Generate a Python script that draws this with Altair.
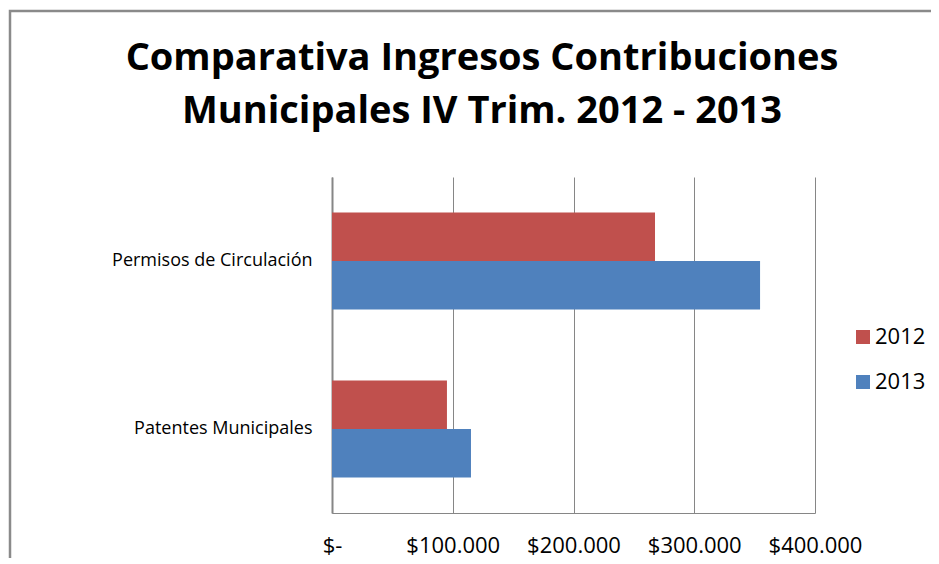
import altair as alt
import pandas as pd

title_lines = ["Comparativa Ingresos Contribuciones", "Municipales IV Trim. 2012 - 2013"]
categories = ["Permisos de Circulación", "Patentes Municipales"]
years = ["2012", "2013"]
values_2012 = [267500, 95200]
values_2013 = [354500, 115100]
x_ticks = [0, 100000, 200000, 300000, 400000]
colors = ["#C0504D", "#4F81BD"]

rows = []
for c, v12, v13 in zip(categories, values_2012, values_2013):
    rows.append({"cat": c, "year": "2012", "value": v12})
    rows.append({"cat": c, "year": "2013", "value": v13})
df = pd.DataFrame(rows)

FONT = "Open Sans"
GRID = "#868686"
one = pd.DataFrame({"a": [0]})

frame = alt.Chart(one).mark_rect(
    fill="transparent", stroke="#8a8a8a", strokeWidth=2.5
).encode(
    x=alt.value(-322), x2=alt.value(700),
    y=alt.value(-166), y2=alt.value(500),
)

title1 = alt.Chart(one).mark_text(
    text=title_lines[0], font=FONT, fontSize=38, fontWeight="bold", color="#000000",
    align="center", baseline="alphabetic"
).encode(x=alt.value(150), y=alt.value(-107))

title2 = alt.Chart(one).mark_text(
    text=title_lines[1], font=FONT, fontSize=38, fontWeight="bold", color="#000000",
    align="center", baseline="alphabetic"
).encode(x=alt.value(150), y=alt.value(-54))

bars = alt.Chart(df).mark_bar().encode(
    x=alt.X("value:Q",
            scale=alt.Scale(domain=[0, 400000], nice=False),
            axis=alt.Axis(values=x_ticks, title=None, grid=True, gridColor=GRID,
                          gridWidth=1, ticks=False, domainColor=GRID, domainWidth=1,
                          labelFont=FONT, labelFontSize=22, labelColor="#000000",
                          labelPadding=22, labelOverlap=False, labelFlush=False,
                          labelExpr="datum.value == 0 ? '$-\u00a0\u00a0' : '$' + format(datum.value / 1000, 'd') + '.000'")),
    y=alt.Y("cat:N", sort=categories,
            scale=alt.Scale(paddingInner=0.423, paddingOuter=0.2115),
            axis=alt.Axis(title=None, ticks=False, domainColor=GRID, domainWidth=2,
                          labelFont=FONT, labelFontSize=18, labelColor="#000000",
                          labelPadding=20, labelLimit=400)),
    yOffset=alt.YOffset("year:N", sort=years,
                        scale=alt.Scale(paddingInner=0, paddingOuter=0)),
    color=alt.Color("year:N", sort=years,
                    scale=alt.Scale(domain=years, range=colors),
                    legend=alt.Legend(title=None, orient="none", legendX=520, legendY=149,
                                      symbolType="square", symbolSize=196,
                                      symbolStrokeWidth=0, labelFont=FONT,
                                      labelFontSize=22, labelColor="#000000",
                                      labelOffset=1, rowPadding=23, padding=0)),
)

chart = alt.layer(frame, title1, title2, bars).properties(
    width=483, height=336,
    autosize=alt.AutoSizeParams(type="none"),
    padding={"left": 324, "top": 169, "right": 116, "bottom": 45},
).configure_view(stroke=None)

chart.save("out.html", embed_options={"renderer": "svg", "actions": False})
